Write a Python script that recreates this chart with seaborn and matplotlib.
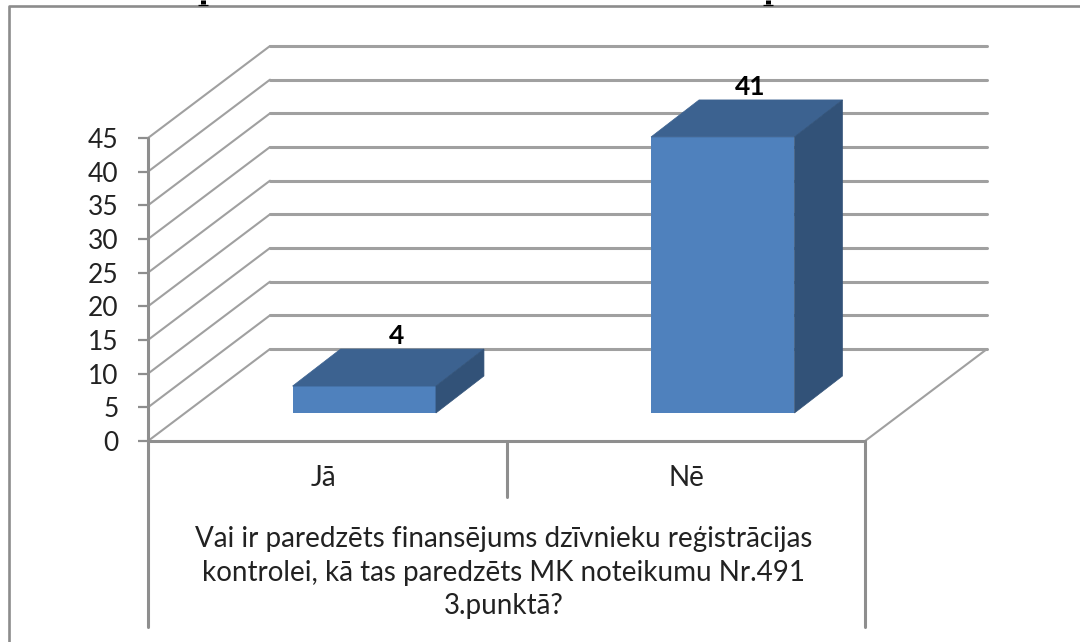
import numpy as np
import pandas as pd
import matplotlib
matplotlib.use('Agg')
import matplotlib.pyplot as plt
import seaborn as sns
from matplotlib.lines import Line2D
from matplotlib.patches import Polygon
from matplotlib.transforms import Affine2D, IdentityTransform

# data
categories = ['Jā', 'Nē']
values = [4, 41]
y_ticks = [0, 5, 10, 15, 20, 25, 30, 35, 40, 45]
axis_title = 'Vai ir paredzēts finansējums dzīvnieku reģistrācijas\nkontrolei, kā tas paredzēts MK noteikumu Nr.491\n3.punktā?'

W, H = 1080, 642

sns.set_theme(style='white')
plt.rcParams['font.family'] = ['Lato', 'DejaVu Sans']

GRID = '#a0a0a0'
AXIS = '#8e8e8e'
TEXT = '#222222'
FRONT = '#4f81bd'
TOP = '#3c6290'
SIDE = '#325278'


# axes from pixel box (y counted from the top like in the image)
def px_axes(x0, x1, y_top, y_bottom):
    return fig.add_axes([x0 / W, 1 - y_bottom / H, (x1 - x0) / W, (y_bottom - y_top) / H])


fig = plt.figure(figsize=(W / 100, H / 100), dpi=100, facecolor='white')

# front plane of the chart, gives the scales
ax = px_axes(148, 865, 138, 441)
ax.set_xlim(-0.5, 1.5)
ax.set_ylim(0, 45)
ax.patch.set_alpha(0)
sns.despine(ax=ax, left=True, bottom=True, top=True, right=True)

# depth of the walls
wall_dx, wall_dy = 122, 92
back = ax.transData + Affine2D().translate(wall_dx, wall_dy)

for t in y_ticks:
    ax.plot([-0.5, 1.5], [t, t], transform=back, color=GRID, lw=2.2, clip_on=False)
    x0, y0 = ax.transData.transform((-0.5, t))
    ax.plot([x0, x0 + wall_dx], [y0, y0 + wall_dy], transform=IdentityTransform(), color=GRID, lw=1.5, clip_on=False)

# floor edge on the right and the front
x0, y0 = ax.transData.transform((1.5, 0))
ax.plot([x0, x0 + wall_dx], [y0, y0 + wall_dy], transform=IdentityTransform(), color=GRID, lw=1.5, clip_on=False)
ax.plot([-0.5, 1.5], [0, 0], color=AXIS, lw=2.2, clip_on=False)

# axis lines, they run down around the category labels
trans = ax.get_xaxis_transform()
ax.plot([-0.5, -0.5], [1, -0.614], transform=trans, color=AXIS, lw=2.2, clip_on=False)
ax.plot([1.5, 1.5], [0, -0.614], transform=trans, color=AXIS, lw=2.2, clip_on=False)
ax.plot([0.5, 0.5], [0, -0.185], transform=trans, color=AXIS, lw=2.2, clip_on=False)

ax.set_yticks(y_ticks)
ax.set_yticklabels([str(t) for t in y_ticks])
ax.tick_params(axis='y', left=True, length=7.2, width=1.6, color=AXIS, labelsize=19, labelcolor=TEXT, pad=14)
ax.set_xticks([])

cat_shift = [-4, 1]
for i, c in enumerate(categories):
    ax.annotate(c, (i, 0), xytext=(cat_shift[i], -37), textcoords='offset pixels', ha='center', va='center',
                fontsize=20, color=TEXT, annotation_clip=False)
ax.text(0.4965, -0.28, axis_title, transform=ax.transAxes, ha='center', va='top', fontsize=20,
        color=TEXT, linespacing=1.37, clip_on=False)

# bars stand a bit behind the front plane
ax_bar = px_axes(148 + 37, 865 + 37, 138 - 28, 441 - 28)
df = pd.DataFrame({'cat': categories, 'val': values})
sns.barplot(data=df, x='cat', y='val', ax=ax_bar, width=0.4, color=FRONT, saturation=1, linewidth=0)
ax_bar.set_xlim(-0.5, 1.5)
ax_bar.set_ylim(0, 45)
ax_bar.axis('off')

bar_dx, bar_dy = 48, 37
label_shift = [32, 27]
for bar, val, shift in zip(ax_bar.patches, values, label_shift):
    left, right = bar.get_x(), bar.get_x() + bar.get_width()
    (xa, ya), (xb, yb) = ax_bar.transData.transform([(left, val), (right, 0)])
    top_face = [(xa, ya), (xb, ya), (xb + bar_dx, ya + bar_dy), (xa + bar_dx, ya + bar_dy)]
    side_face = [(xb, ya), (xb + bar_dx, ya + bar_dy), (xb + bar_dx, yb + bar_dy), (xb, yb)]
    ax_bar.add_patch(Polygon(top_face, transform=IdentityTransform(), fc=TOP, ec=TOP, lw=0.5, clip_on=False))
    ax_bar.add_patch(Polygon(side_face, transform=IdentityTransform(), fc=SIDE, ec=SIDE, lw=0.5, clip_on=False))
    ax_bar.annotate(str(val), ((left + right) / 2, val), xytext=(shift, bar_dy + 13), textcoords='offset pixels',
                    ha='center', va='center', fontsize=19, fontweight='bold', color='black', annotation_clip=False)

# outer frame of the cropped screenshot
fig.add_artist(Line2D([9 / W, 9 / W, 1], [0, 1 - 6 / H, 1 - 6 / H], color='#8c8c8c', lw=1.9))

# the page title above is cut off, only two serif feet of letters are left at the top edge
for px in [203, 768]:
    fig.add_artist(Line2D([px / W, px / W], [1, 1 - 4 / H], color='black', lw=3.6, solid_capstyle='butt'))
    fig.add_artist(Line2D([(px - 5) / W, (px + 5) / W], [1 - 4.5 / H, 1 - 4.5 / H], color='black', lw=0.9,
                          solid_capstyle='butt'))

fig.savefig('out.png', dpi=100)
